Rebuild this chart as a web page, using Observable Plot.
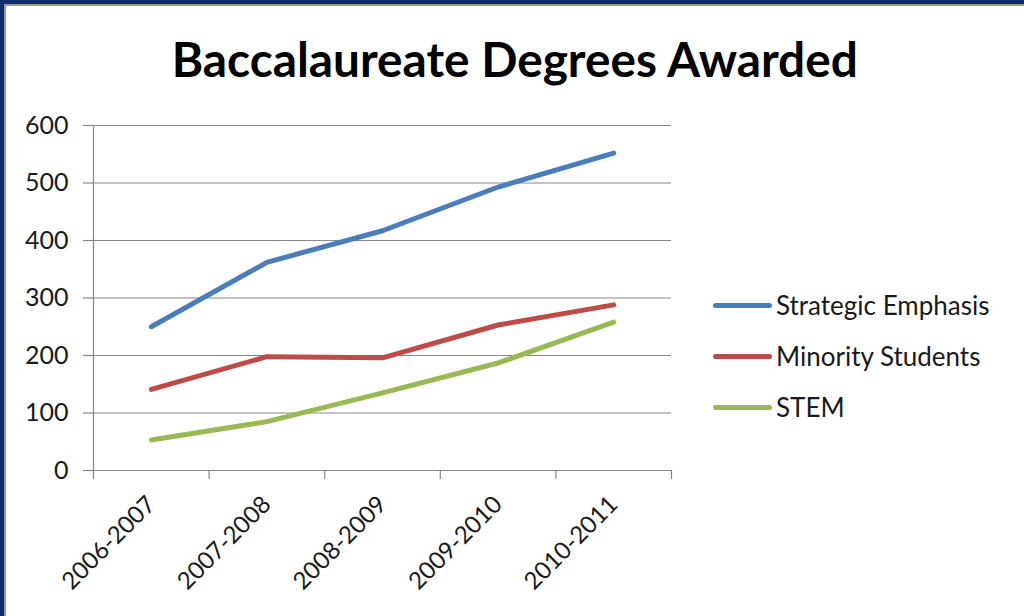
<!DOCTYPE html>
<html><head><meta charset="utf-8">
<script src="https://cdn.jsdelivr.net/npm/d3@7"></script>
<script src="https://cdn.jsdelivr.net/npm/@observablehq/plot@0.6"></script>
<style>
body{margin:0;background:#fff;}
#wrap{position:relative;width:1024px;height:616px;overflow:hidden;font-family:Lato,"Open Sans",sans-serif;background:#fff;}
#chart{position:absolute;left:0;top:0;}
#title{position:absolute;left:0;top:35px;width:1030px;text-align:center;font-weight:700;font-size:48px;line-height:48px;color:#000;white-space:nowrap;}
#title span{display:inline-block;transform-origin:center;}
.bt{position:absolute;left:0;top:0;width:1024px;height:4px;background:#0b2b6c;}
.bt2{position:absolute;left:4px;top:4px;width:1020px;height:2px;background:#9a9a9a;}
.bl{position:absolute;left:0;top:0;width:4px;height:616px;background:#0b2b6c;}
.bl2{position:absolute;left:4px;top:4px;width:2px;height:612px;background:#9a9a9a;}
#legend{position:absolute;left:713px;top:0;}
.item{position:absolute;left:0;display:flex;align-items:center;white-space:nowrap;height:30px;}
.sw{width:59px;height:5px;border-radius:3px;margin-right:4px;}
.lbl{font-size:26px;color:#1a1a1a;}
</style></head><body>
<div id="wrap">
  <div id="chart"></div>
  <div id="title"><span>Baccalaureate Degrees Awarded</span></div>
  <div id="legend"></div>
  <div class="bt"></div><div class="bl"></div><div class="bt2"></div><div class="bl2"></div>
</div>
<script>
const years = ["2006-2007","2007-2008","2008-2009","2009-2010","2010-2011"];
const seriesNames = ["Strategic Emphasis","Minority Students","STEM"];
const strategicEmphasis = [250,362,417,493,552];
const minorityStudents = [141,198,196,253,288];
const stem = [53,85,135,187,258];
const colors = ["#4a7ebb","#be4b48","#98b954"];
const yTicks = [0,100,200,300,400,500,600];

const seriesValues = [strategicEmphasis, minorityStudents, stem];
const data = [];
seriesValues.forEach((vals, s) => vals.forEach((v, i) => data.push({series: seriesNames[s], i, year: years[i], value: v})));
const boundaries = d3.range(years.length + 1).map(k => k - 0.5);
const centers = d3.range(years.length);

const plot = Plot.plot({
  width: 1024, height: 616,
  marginLeft: 93, marginRight: 353, marginTop: 125, marginBottom: 146,
  style: {fontFamily: "Lato, 'Open Sans', sans-serif", background: "transparent", overflow: "visible"},
  x: {domain: [-0.5, years.length - 0.5]},
  y: {domain: [0, 600]},
  color: {domain: seriesNames, range: colors},
  marks: [
    Plot.gridY(yTicks, {stroke: "#878787", strokeOpacity: 1, strokeWidth: 1.2}),
    Plot.ruleX([-0.5], {stroke: "#878787", strokeWidth: 1.2}),
    Plot.axisY(yTicks, {tickSize: 10, tickPadding: 15, fontSize: 25, fill: "#1a1a1a", stroke: "#878787", strokeWidth: 1.2, label: null}),
    Plot.axisX(boundaries, {tickSize: 9, tickFormat: () => "", stroke: "#878787", strokeWidth: 1.2, label: null}),
    Plot.axisX(centers, {tickSize: 0, tickPadding: 30, tickRotate: -45, dx: 0, tickFormat: i => years[i], fontSize: 24, fill: "#1a1a1a", label: null}),
    Plot.line(data, {x: "i", y: "value", z: "series", stroke: "series", strokeWidth: 5, strokeLinecap: "round", strokeLinejoin: "round"})
  ]
});
document.getElementById("chart").appendChild(plot);

const legend = document.getElementById("legend");
const rowY = [305, 356, 407];
seriesNames.forEach((name, k) => {
  const item = document.createElement("div");
  item.className = "item";
  item.style.top = (rowY[k] - 15) + "px";
  item.innerHTML = `<div class="sw" style="background:${colors[k]}"></div><span class="lbl">${name}</span>`;
  legend.appendChild(item);
});

// fit title width to reference (~686px)
const ts = document.querySelector("#title span");
const w = ts.getBoundingClientRect().width;
ts.style.transform = `scaleX(${686 / w})`;
</script>
</body></html>
